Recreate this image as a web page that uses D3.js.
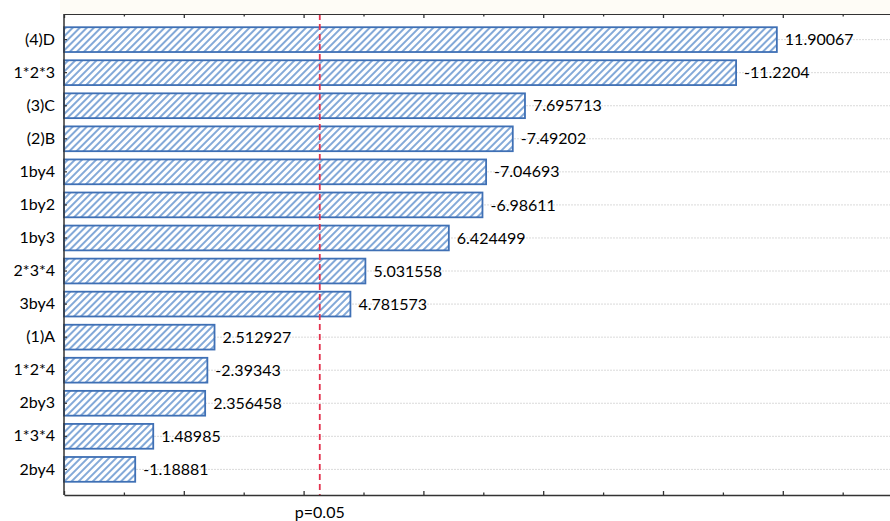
<!DOCTYPE html>
<html>
<head>
<meta charset="utf-8">
<script src="https://cdn.jsdelivr.net/npm/d3@7"></script>
<style>
  body { margin: 0; background: #fff; }
  svg { display: block; font-family: Lato, "Open Sans", sans-serif; }
</style>
</head>
<body>
<svg></svg>
<script>
// Pareto chart of standardized effects
const factors = ['(4)D', '1*2*3', '(3)C', '(2)B', '1by4', '1by2', '1by3',
    '2*3*4', '3by4', '(1)A', '1*2*4', '2by3', '1*3*4', '2by4'];
const effects = [11.90067, -11.2204, 7.695713, -7.49202, -7.04693, -6.98611, 6.424499,
    5.031558, 4.781573, 2.512927, -2.39343, 2.356458, 1.48985, -1.18881];
const xTicks = [0, 1, 2, 3, 4, 5, 6, 7, 8, 9, 10, 11, 12, 13, 14];
const pCritical = 4.27;
const pLabel = 'p=0.05';

const svgWidth = 890;
const svgHeight = 521;
const plotLeft = 64, plotTop = 14, plotBottom = 495;

const svg = d3.select('svg')
    .attr('width', svgWidth)
    .attr('height', svgHeight);

const xScale = d3.scaleLinear()
    .domain([0, 14])
    .range([plotLeft, plotLeft + 14 * 59.9]);

const yScale = d3.scaleBand()
    .domain(factors)
    .range([plotTop, plotBottom])
    .paddingInner(0.25)
    .paddingOuter(0.4);

const pattern = svg.append('defs')
    .append('pattern')
    .attr('id', 'hatch')
    .attr('patternUnits', 'userSpaceOnUse')
    .attr('width', 5)
    .attr('height', 5)
    .attr('patternTransform', 'rotate(45)');

pattern.append('rect')
    .attr('width', 5)
    .attr('height', 5)
    .attr('fill', '#fff');

pattern.append('line')
    .attr('x1', 1).attr('y1', 0)
    .attr('x2', 1).attr('y2', 5)
    .attr('stroke', '#5a8ccb')
    .attr('stroke-width', 1.5);

// faint strip above the plot
svg.append('rect')
    .attr('x', plotLeft - 4)
    .attr('y', 0)
    .attr('width', svgWidth - plotLeft + 4)
    .attr('height', plotTop)
    .attr('fill', '#fefcf6');

// dotted grid lines at each bar
svg.selectAll('.grid')
    .data(factors)
    .enter().append('line')
    .attr('class', 'grid')
    .attr('x1', plotLeft)
    .attr('x2', svgWidth)
    .attr('y1', d => yScale(d) + yScale.bandwidth() / 2)
    .attr('y2', d => yScale(d) + yScale.bandwidth() / 2)
    .attr('stroke', '#dadada')
    .attr('stroke-width', 1)
    .attr('stroke-dasharray', '2,1');

const rows = factors.map((f, i) => ({ factor: f, effect: effects[i] }));

svg.selectAll('.bar')
    .data(rows)
    .enter().append('rect')
    .attr('class', 'bar')
    .attr('x', xScale(0))
    .attr('y', d => yScale(d.factor))
    .attr('width', d => xScale(Math.abs(d.effect)) - xScale(0))
    .attr('height', yScale.bandwidth())
    .attr('fill', 'url(#hatch)')
    .attr('stroke', '#3f70b5')
    .attr('stroke-width', 1.8);

svg.selectAll('.valueLabel')
    .data(rows)
    .enter().append('text')
    .attr('class', 'valueLabel')
    .attr('x', d => xScale(Math.abs(d.effect)) + 8)
    .attr('y', d => yScale(d.factor) + yScale.bandwidth() / 2)
    .attr('dy', '0.35em')
    .attr('font-size', '16px')
    .attr('fill', '#000')
    .text(d => String(d.effect));

// significance line
svg.append('line')
    .attr('x1', xScale(pCritical))
    .attr('x2', xScale(pCritical))
    .attr('y1', plotTop)
    .attr('y2', plotBottom)
    .attr('stroke', '#e3334f')
    .attr('stroke-width', 1.8)
    .attr('stroke-dasharray', '6,4');

svg.append('text')
    .attr('x', xScale(pCritical))
    .attr('y', 518)
    .attr('text-anchor', 'middle')
    .attr('font-size', '16px')
    .attr('fill', '#000')
    .text(pLabel);

// axes
const axisBottom = svg.append('g')
    .attr('transform', `translate(0, ${plotBottom})`)
    .call(d3.axisTop(xScale).tickValues(xTicks).tickSize(0).tickFormat(''));
axisBottom.select('.domain').attr('stroke', '#333').attr('stroke-width', 1.5);

const axisTop = svg.append('g')
    .attr('transform', `translate(0, ${plotTop})`)
    .call(d3.axisBottom(xScale).tickValues(xTicks).tickSize(0).tickFormat(''));
axisTop.select('.domain').attr('stroke', '#333').attr('stroke-width', 1.2);

[axisBottom, axisTop].forEach((g, k) => {
    g.selectAll('.tick line')
        .attr('stroke', '#333')
        .attr('stroke-width', 1.3)
        .attr('y2', d => (k === 0 ? -1 : 1) * (d % 2 === 0 ? 4 : 2.5));
});

const axisLeft = svg.append('g')
    .attr('transform', `translate(${plotLeft}, 0)`)
    .call(d3.axisLeft(yScale).tickSize(-3).tickPadding(9));
axisLeft.select('.domain').attr('stroke', '#333').attr('stroke-width', 1.5)
    .attr('d', `M0,${plotTop}V${plotBottom}`);
axisLeft.selectAll('.tick line').attr('stroke', '#333').attr('stroke-width', 1.2);
axisLeft.selectAll('.tick text')
    .attr('font-size', '16px')
    .attr('font-family', 'Lato, "Open Sans", sans-serif')
    .attr('fill', '#000');
</script>
</body>
</html>
